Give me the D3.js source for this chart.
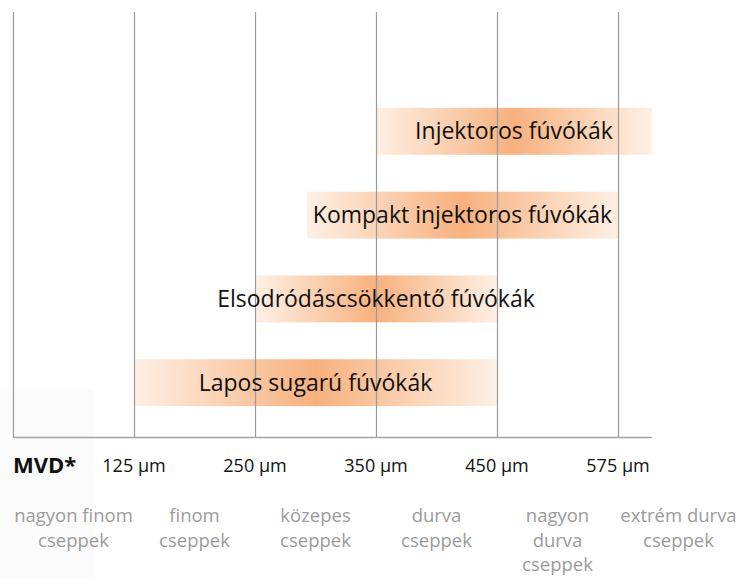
<!DOCTYPE html>
<html>
<head>
<meta charset="utf-8">
<script src="https://cdn.jsdelivr.net/npm/d3@7"></script>
<style>
  body { margin: 0; background: #fff; }
  text { font-family: "Open Sans", "Noto Sans", sans-serif; }
</style>
</head>
<body>
<script>
'use strict';

// MVD class boundaries (µm) and their labels
var boundaries = [125, 250, 350, 450, 575];
var tickLabels = ["125 µm", "250 µm", "350 µm", "450 µm", "575 µm"];

// droplet size classes, one per column
var dropletClasses = [
    ["nagyon finom", "cseppek"],
    ["finom", "cseppek"],
    ["közepes", "cseppek"],
    ["durva", "cseppek"],
    ["nagyon", "durva", "cseppek"],
    ["extrém durva", "cseppek"]
];

// nozzle types and their droplet range (µm)
var nozzles = ["Injektoros fúvókák", "Kompakt injektoros fúvókák", "Elsodródáscsökkentő fúvókák", "Lapos sugarú fúvókák"];
var rangeFrom = [350, 293, 250, 125];
var rangeTo = [610, 575, 450, 450];

(function() {
    var width = 745,
        height = 578;

    var svg = d3.select("body")
        .append("svg")
        .attr("width", width)
        .attr("height", height);

    // the axis is not linear in µm: every class gets the same width
    var x = d3.scaleLinear()
        .domain([0].concat(boundaries).concat([700]))
        .range([13, 134, 255, 376, 497, 618, 739]);

    var y = d3.scaleBand()
        .domain(nozzles)
        .range([71, 443])
        .padding(0.44);

    var baseY = 437,
        topY = 12,
        axisEnd = x(610);

    // faint grey panel behind the MVD label
    svg.append("rect")
        .attr("x", 0).attr("y", 390)
        .attr("width", 93).attr("height", height - 390)
        .attr("fill", "#fbfbfb");

    var grad = svg.append("defs").append("linearGradient")
        .attr("id", "barGrad")
        .attr("x1", "0%").attr("x2", "100%")
        .attr("y1", "0%").attr("y2", "0%");
    grad.append("stop").attr("offset", "0%").attr("stop-color", "#fef0e5");
    grad.append("stop").attr("offset", "50%").attr("stop-color", "#f7b17e");
    grad.append("stop").attr("offset", "100%").attr("stop-color", "#fef0e5");

    svg.append("g").attr("id", "bars")
        .selectAll("rect")
        .data(nozzles)
        .enter()
        .append("rect")
        .attr("x", function(d, i) { return x(rangeFrom[i]); })
        .attr("width", function(d, i) { return x(rangeTo[i]) - x(rangeFrom[i]); })
        .attr("y", function(d) { return y(d); })
        .attr("height", y.bandwidth())
        .attr("fill", "url(#barGrad)");

    // vertical grid lines at the class boundaries (plus the left edge)
    var grid = svg.append("g").attr("id", "grid");
    grid.selectAll("line")
        .data([0].concat(boundaries))
        .enter()
        .append("line")
        .attr("x1", function(d) { return x(d) + 0.5; })
        .attr("x2", function(d) { return x(d) + 0.5; })
        .attr("y1", topY)
        .attr("y2", baseY)
        .attr("stroke", "#9a9a9a")
        .attr("stroke-width", 1.2);

    grid.append("line")
        .attr("x1", x(0)).attr("x2", axisEnd)
        .attr("y1", baseY + 0.5).attr("y2", baseY + 0.5)
        .attr("stroke", "#a3a3a3")
        .attr("stroke-width", 1.5);

    // nozzle labels, centred on their bars
    svg.append("g").selectAll("text")
        .data(nozzles)
        .enter()
        .append("text")
        .attr("x", function(d, i) { return (x(rangeFrom[i]) + x(rangeTo[i])) / 2; })
        .attr("y", function(d) { return y(d) + y.bandwidth() / 2 + 8; })
        .attr("text-anchor", "middle")
        .attr("font-size", 23)
        .attr("fill", "#111")
        .text(function(d) { return d; });

    // MVD axis labels
    svg.append("text")
        .attr("x", 13).attr("y", 473)
        .attr("font-size", 22)
        .attr("font-weight", "bold")
        .attr("fill", "#111")
        .text("MVD*");

    svg.append("g").selectAll("text")
        .data(boundaries)
        .enter()
        .append("text")
        .attr("x", function(d) { return x(d); })
        .attr("y", 472)
        .attr("text-anchor", "middle")
        .attr("font-size", 18)
        .attr("fill", "#111")
        .text(function(d, i) { return tickLabels[i]; });

    // droplet class labels centred under each column
    var edges = [0].concat(boundaries).concat([700]);
    var classes = svg.append("g").selectAll("text")
        .data(dropletClasses)
        .enter()
        .append("text")
        .attr("text-anchor", "middle")
        .attr("font-size", 18.5)
        .attr("fill", "#9b9b9b")
        .attr("transform", function(d, i) {
            return "translate(" + (x(edges[i]) + x(edges[i + 1])) / 2 + ",522)";
        });
    classes.selectAll("tspan")
        .data(function(d) { return d; })
        .enter()
        .append("tspan")
        .attr("x", 0)
        .attr("y", function(d, j) { return j * 24.5; })
        .text(function(d) { return d; });

    // footnote, cut off by the bottom edge as in the source
    svg.append("text")
        .attr("x", 6).attr("y", 589)
        .attr("font-size", 13)
        .attr("fill", "#333")
        .text("*Középérték szerinti cseppméret (térfogati medián)");
})();
</script>
</body>
</html>
